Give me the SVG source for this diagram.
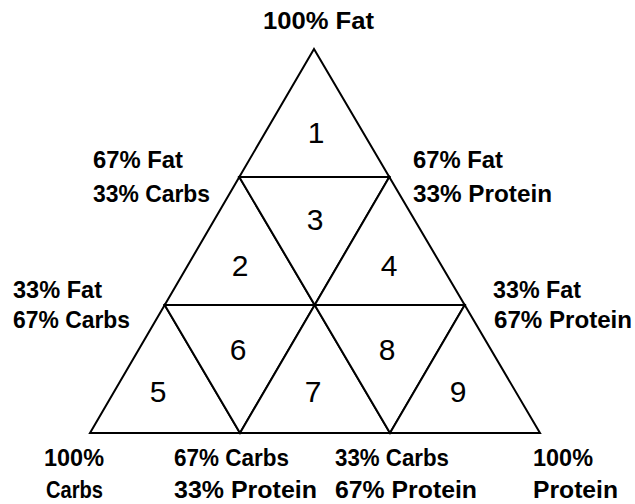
<svg xmlns="http://www.w3.org/2000/svg" width="635" height="504" viewBox="0 0 635 504">
<style>
.cell{fill:#fff;stroke:#000;stroke-width:2;stroke-linejoin:miter}
.num{font-family:"Liberation Sans",Arial,sans-serif;font-size:30px;fill:#000;text-anchor:middle}
.lbl{font-family:"Liberation Sans",Arial,sans-serif;font-size:24px;font-weight:bold;fill:#000}
</style>
<rect width="635" height="504" fill="#fff"/>
<g id="cells">
<g id="t1"><polygon class="cell" points="314,49 239.3,177 389.3,177"/><text class="num" x="316" y="143">1</text></g>
<g id="t2"><polygon class="cell" points="239.3,177 164.7,305 314.7,305"/><text class="num" x="240" y="276">2</text></g>
<g id="t3"><polygon class="cell" points="239.3,177 389.3,177 314.7,305"/><text class="num" x="315" y="230">3</text></g>
<g id="t4"><polygon class="cell" points="389.3,177 314.7,305 464.7,305"/><text class="num" x="389" y="276">4</text></g>
<g id="t5"><polygon class="cell" points="164.7,305 90,433 240,433"/><text class="num" x="158" y="402">5</text></g>
<g id="t6"><polygon class="cell" points="164.7,305 314.7,305 240,433"/><text class="num" x="238" y="360">6</text></g>
<g id="t7"><polygon class="cell" points="314.7,305 240,433 390,433"/><text class="num" x="313" y="402">7</text></g>
<g id="t8"><polygon class="cell" points="314.7,305 464.7,305 390,433"/><text class="num" x="387" y="360">8</text></g>
<g id="t9"><polygon class="cell" points="464.7,305 390,433 540,433"/><text class="num" x="458" y="402">9</text></g>
</g>
<g id="connectors"></g>
<g id="labels">
<text class="lbl" x="263" y="29" textLength="111" lengthAdjust="spacingAndGlyphs">100% Fat</text>
<text class="lbl" x="93" y="168" textLength="90" lengthAdjust="spacingAndGlyphs">67% Fat</text>
<text class="lbl" x="93" y="202" textLength="117" lengthAdjust="spacingAndGlyphs">33% Carbs</text>
<text class="lbl" x="413" y="168" textLength="90" lengthAdjust="spacingAndGlyphs">67% Fat</text>
<text class="lbl" x="413" y="202" textLength="139" lengthAdjust="spacingAndGlyphs">33% Protein</text>
<text class="lbl" x="13" y="298" textLength="89" lengthAdjust="spacingAndGlyphs">33% Fat</text>
<text class="lbl" x="13" y="328" textLength="117" lengthAdjust="spacingAndGlyphs">67% Carbs</text>
<text class="lbl" x="493" y="298" textLength="88" lengthAdjust="spacingAndGlyphs">33% Fat</text>
<text class="lbl" x="494" y="328" textLength="138" lengthAdjust="spacingAndGlyphs">67% Protein</text>
<text class="lbl" x="44" y="466" textLength="60" lengthAdjust="spacingAndGlyphs">100%</text>
<text class="lbl" x="46" y="498" textLength="57" lengthAdjust="spacingAndGlyphs">Carbs</text>
<text class="lbl" x="174" y="466" textLength="115" lengthAdjust="spacingAndGlyphs">67% Carbs</text>
<text class="lbl" x="174" y="498" textLength="143" lengthAdjust="spacingAndGlyphs">33% Protein</text>
<text class="lbl" x="335" y="466" textLength="114" lengthAdjust="spacingAndGlyphs">33% Carbs</text>
<text class="lbl" x="335" y="498" textLength="142" lengthAdjust="spacingAndGlyphs">67% Protein</text>
<text class="lbl" x="533" y="466" textLength="60" lengthAdjust="spacingAndGlyphs">100%</text>
<text class="lbl" x="533" y="498" textLength="85" lengthAdjust="spacingAndGlyphs">Protein</text>
</g>
</svg>
